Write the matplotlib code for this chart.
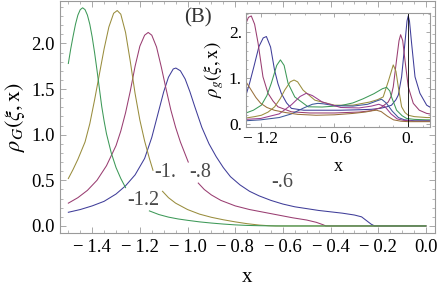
import numpy as np
import matplotlib
matplotlib.use("Agg")
import matplotlib.pyplot as plt
from matplotlib.ticker import MultipleLocator, FixedLocator

plt.rcParams['font.family'] = ['Liberation Serif', 'DejaVu Serif']
plt.rcParams['mathtext.fontset'] = 'stix'

nan = np.nan
# ---- main panel data: rho_G(xi, x) for xi = -0.6, -0.8, -1.0, -1.2 ----
blue_x = [-1.50, -1.45, -1.40, -1.35, -1.30, -1.26, -1.22, -1.18, -1.15, -1.12, -1.10, -1.08, -1.06, -1.049, -1.03,
          -1.01, -0.99, -0.97, -0.94, -0.91, -0.88, -0.85, -0.82, -0.78, -0.74, -0.70, -0.65, -0.60, -0.55, -0.50,
          -0.45, -0.40, -0.35, -0.30, -0.27, -0.25, -0.23, -0.215, 0.0]
blue_y = [0.15, 0.18, 0.22, 0.27, 0.35, 0.44, 0.56, 0.74, 0.97, 1.27, 1.47, 1.63, 1.72, 1.73, 1.70,
          1.61, 1.47, 1.31, 1.08, 0.90, 0.76, 0.64, 0.54, 0.45, 0.38, 0.33, 0.28, 0.24, 0.21, 0.19,
          0.17, 0.155, 0.14, 0.12, 0.10, 0.06, 0.02, 0.0, 0.0]

mag_x = [-1.50, -1.46, -1.42, -1.38, -1.34, -1.30, -1.28, -1.26, -1.24, -1.22, -1.20, -1.18, -1.165, -1.15, -1.13,
         -1.11, -1.09, -1.07, -1.05, -1.03, -1.00, -0.997, -0.976, -0.955, -0.93, -0.90, -0.86, -0.80, -0.74, -0.68,
         -0.62, -0.56, -0.50, -0.46, -0.43, -0.42, 0.0]
mag_y = [0.25, 0.31, 0.39, 0.50, 0.66, 0.88, 1.04, 1.24, 1.48, 1.75, 1.97, 2.09, 2.12, 2.09, 1.96,
         1.74, 1.50, 1.27, 1.08, 0.92, 0.72, 0.70, nan, 0.47, 0.40, 0.34, 0.28, 0.22, 0.18, 0.15,
         0.12, 0.09, 0.065, 0.04, 0.012, 0.0, 0.0]

gold_x = [-1.50, -1.48, -1.46, -1.43, -1.41, -1.39, -1.37, -1.35, -1.33, -1.31, -1.295, -1.28, -1.26, -1.24, -1.22,
          -1.20, -1.18, -1.16, -1.145, -1.125, -1.105, -1.08, -1.05, -1.00, -0.95, -0.90, -0.85, -0.80, -0.75, -0.70,
          -0.66, -0.63, 0.0]
gold_y = [0.52, 0.62, 0.73, 0.92, 1.12, 1.38, 1.66, 1.94, 2.18, 2.33, 2.36, 2.32, 2.12, 1.80, 1.45,
          1.16, 0.93, 0.74, 0.61, nan, 0.38, 0.31, 0.25, 0.18, 0.13, 0.095, 0.068, 0.045, 0.025, 0.010,
          0.003, 0.0, 0.0]

green_x = [-1.50, -1.49, -1.48, -1.47, -1.46, -1.45, -1.44, -1.43, -1.42, -1.41, -1.40, -1.39, -1.38, -1.37, -1.36,
           -1.35, -1.34, -1.32, -1.30, -1.28, -1.26, -1.21, -1.16, -1.12, -1.08, -1.04, -1.00, -0.95, -0.90, -0.85,
           -0.80, -0.75, -0.70, -0.65, -0.60, 0.0]
green_y = [1.78, 1.94, 2.08, 2.21, 2.31, 2.37, 2.39, 2.37, 2.31, 2.21, 2.07, 1.90, 1.71, 1.51, 1.31,
           1.15, 1.01, 0.80, 0.64, 0.52, 0.42, nan, 0.165, 0.125, 0.097, 0.077, 0.062, 0.045, 0.032, 0.021,
           0.012, 0.006, 0.003, 0.001, 0.0, 0.0]

curve_labels = ['-.6', '-.8', '-1.', '-1.2']
label_x = [-0.603, -0.947, -1.094, -1.186]
label_y = [0.48, 0.59, 0.59, 0.28]

# ---- inset data: rho_g(xi, x) ----
in_blue_x = [-1.32, -1.29, -1.256, -1.215, -1.18, -1.154, -1.12, -1.088, -1.06, -1.033, -0.99, -0.95, -0.85, -0.70, -0.55,
             -0.40, -0.30, -0.23, -0.18, -0.136, -0.10, -0.081, -0.054, -0.027, -0.01, 0.0, 0.01, 0.027, 0.055, 0.095, 0.15, 0.175]
in_blue_y = [0.63, 0.90, 1.25, 1.69, 1.88, 1.91, 1.68, 1.18, 0.88, 0.67, 0.46, 0.34, 0.30, 0.30, 0.30,
             0.31, 0.32, 0.34, 0.37, 0.41, 0.53, 0.63, 1.03, 1.77, 2.25, 2.36, 2.25, 1.77, 1.03, 0.67, 0.41, 0.37]

in_mag_x = [-1.32, -1.30, -1.277, -1.25, -1.222, -1.182, -1.141, -1.10, -1.06, -0.95, -0.80, -0.60, -0.40, -0.30, -0.22,
            -0.163, -0.14, -0.122, -0.095, -0.075, -0.062, -0.045, -0.027, 0.0, 0.041, 0.09, 0.15, 0.175]
in_mag_y = [2.20, 2.33, 2.36, 2.18, 1.77, 1.03, 0.67, 0.50, 0.375, 0.265, 0.24, 0.24, 0.26, 0.29, 0.36,
            0.48, 0.60, 0.81, 1.40, 1.82, 1.95, 1.82, 1.40, 0.81, 0.45, 0.30, 0.23, 0.22]

in_gold_x = [-1.32, -1.25, -1.195, -1.14, -1.087, -1.04, -1.005, -0.96, -0.929, -0.90, -0.856, -0.76, -0.60, -0.45, -0.312,
             -0.25, -0.204, -0.16, -0.122, -0.10, -0.081, -0.054, -0.027, 0.0, 0.05, 0.10, 0.15, 0.175]
in_gold_y = [0.13, 0.16, 0.19, 0.26, 0.375, 0.56, 0.74, 0.92, 0.96, 0.92, 0.74, 0.52, 0.41, 0.41, 0.48,
             0.53, 0.59, 0.95, 1.29, 1.15, 0.81, 0.375, 0.25, 0.19, 0.16, 0.15, 0.14, 0.14]

in_green_x = [-1.32, -1.26, -1.195, -1.15, -1.114, -1.07, -1.04, -1.01, -0.978, -0.923, -0.815, -0.70, -0.55, -0.45, -0.367,
              -0.28, -0.21, -0.176, -0.15, -0.136, -0.095, -0.05, -0.013, 0.05, 0.15, 0.175]
in_green_y = [0.24, 0.30, 0.41, 0.62, 0.89, 1.28, 1.40, 1.28, 0.89, 0.59, 0.375, 0.37, 0.40, 0.46, 0.55,
              0.66, 0.77, 0.80, 0.72, 0.59, 0.30, 0.18, 0.12, 0.10, 0.09, 0.09]

in_blue2_x = [-1.32, -1.20, -1.05, -0.95, -0.85, -0.78, -0.735, -0.69, -0.60, -0.45, -0.33, -0.26, -0.217, -0.18, -0.13,
              -0.08, -0.03, 0.05, 0.15, 0.175]
in_blue2_y = [0.07, 0.09, 0.14, 0.22, 0.35, 0.43, 0.45, 0.44, 0.40, 0.39, 0.43, 0.50, 0.54, 0.46, 0.28,
              0.14, 0.09, 0.07, 0.07, 0.07]

in_mag2_x = [-1.32, -1.20, -1.05, -0.95, -0.88, -0.83, -0.78, -0.70, -0.55, -0.40, -0.30, -0.24, -0.19, -0.14, -0.09,
             -0.04, 0.05, 0.15, 0.175]
in_mag2_y = [0.10, 0.12, 0.22, 0.42, 0.60, 0.67, 0.62, 0.48, 0.36, 0.35, 0.39, 0.43, 0.38, 0.22, 0.11,
             0.08, 0.06, 0.06, 0.06]

in_brown_x = [-1.32, -1.28, -1.24, -1.20, -1.15, -1.09, -1.00, -0.90, -0.75, -0.60, -0.45, -0.35, -0.29, -0.258, -0.22,
              -0.17, -0.12, -0.06, 0.0, 0.08, 0.175]
in_brown_y = [0.92, 0.75, 0.58, 0.45, 0.36, 0.30, 0.25, 0.21, 0.19, 0.20, 0.23, 0.26, 0.29, 0.30, 0.27,
              0.17, 0.09, 0.06, 0.05, 0.05, 0.05]

main_xticks = [-1.4, -1.2, -1.0, -0.8, -0.6, -0.4, -0.2, 0.0]
main_xticklabels = ['\u2212\u20091.4', '\u2212\u20091.2', '\u2212\u20091.0', '\u2212\u20090.8', '\u2212\u20090.6',
                    '\u2212\u20090.4', '\u2212\u20090.2', '0.0']
main_yticks = [0.0, 0.5, 1.0, 1.5, 2.0]
main_yticklabels = ['0.0', '0.5', '1.0', '1.5', '2.0']
in_xticks = [-1.2, -0.6, 0.0]
in_xticklabels = ['\u2212\u20091.2', '\u2212\u20090.6', '0.']
in_yticks = [0.0, 1.0, 2.0]
in_yticklabels = ['0.', '1.', '2.']

# Mathematica default colors
c_blue = (0.247, 0.24, 0.6)
c_mag = (0.6, 0.24, 0.443)
c_gold = (0.6, 0.553, 0.24)
c_green = (0.24, 0.6, 0.345)
c_blue2 = (0.24, 0.345, 0.6)
c_mag2 = (0.6, 0.24, 0.553)
c_brown = (0.6, 0.438, 0.24)

frame_col = '#9a9a9a'
lw = 0.75

fig = plt.figure(figsize=(4.43, 2.88), dpi=100)
ax = fig.add_axes([60/443, 1 - 233/288, 375/443, 232.5/288])

for xs, ys, c in [(blue_x, blue_y, c_blue), (mag_x, mag_y, c_mag), (gold_x, gold_y, c_gold), (green_x, green_y, c_green)]:
    ax.plot(xs, ys, color=c, lw=lw)

for t, x, y in zip(curve_labels, label_x, label_y):
    ax.text(x, y, t, fontsize=14.5, color='#4a4a4a', ha='center', va='center')

ax.set_xlim(-1.535, 0.038)
ax.set_ylim(-0.077, 2.47)
ax.xaxis.set_major_locator(FixedLocator(main_xticks))
ax.xaxis.set_minor_locator(MultipleLocator(0.05))
ax.yaxis.set_major_locator(FixedLocator(main_yticks))
ax.yaxis.set_minor_locator(MultipleLocator(0.1))
ax.set_xticklabels(main_xticklabels)
ax.set_yticklabels(main_yticklabels)
ax.tick_params(which='both', direction='in', top=True, right=True, color=frame_col, labelsize=13.5, labelcolor='black')
ax.tick_params(which='major', length=4, width=0.6, pad=4)
ax.tick_params(which='minor', length=2, width=0.5)
for s in ax.spines.values():
    s.set_color(frame_col)
    s.set_linewidth(0.8)
ax.set_xlabel('x', fontsize=15, labelpad=9)
ax.set_ylabel(r'$\rho_G(\xi,\mathrm{x})$', fontsize=16, labelpad=3)

fig.text(198/443, 1 - 18/288, '(B)', fontsize=15, color='#333333', ha='center', va='center')

# ---- inset ----
ax2 = fig.add_axes([246/443, 1 - 126.7/288, 184/443, 113.5/288])
ax2.patch.set_facecolor('white')
for xs, ys, c in [(in_blue_x, in_blue_y, c_blue), (in_mag_x, in_mag_y, c_mag), (in_gold_x, in_gold_y, c_gold),
                  (in_green_x, in_green_y, c_green), (in_blue2_x, in_blue2_y, c_blue2), (in_mag2_x, in_mag2_y, c_mag2),
                  (in_brown_x, in_brown_y, c_brown)]:
    ax2.plot(xs, ys, color=c, lw=lw)
ax2.axvline(0.0, color='black', lw=0.6)
ax2.set_xlim(-1.32, 0.177)
ax2.set_ylim(-0.06, 2.42)
ax2.xaxis.set_major_locator(FixedLocator(in_xticks))
ax2.xaxis.set_minor_locator(MultipleLocator(0.12))
ax2.yaxis.set_major_locator(FixedLocator(in_yticks))
ax2.yaxis.set_minor_locator(MultipleLocator(0.2))
ax2.set_xticklabels(in_xticklabels)
ax2.set_yticklabels(in_yticklabels)
ax2.tick_params(which='both', direction='in', top=True, right=True, color=frame_col, labelsize=12.5, labelcolor='black')
ax2.tick_params(which='major', length=3, width=0.6, pad=3)
ax2.tick_params(which='minor', length=1.5, width=0.5)
for s in ax2.spines.values():
    s.set_color(frame_col)
    s.set_linewidth(0.8)
ax2.set_xlabel('x', fontsize=13, labelpad=8)
ax2.set_ylabel(r'$\rho_g(\xi,\mathrm{x})$', fontsize=13.5, labelpad=2)

fig.savefig('out.png', dpi=100)
